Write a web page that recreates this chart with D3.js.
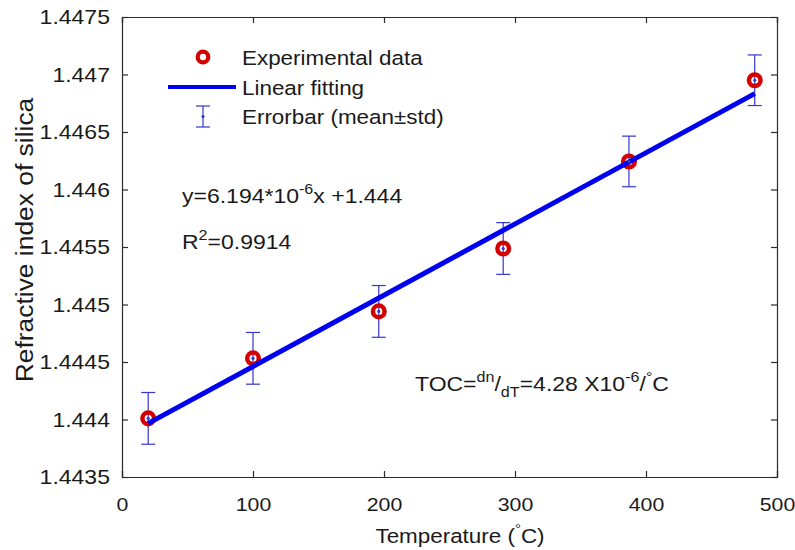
<!DOCTYPE html>
<html><head><meta charset="utf-8">
<script src="https://cdn.jsdelivr.net/npm/d3@7"></script>
<style>
html,body{margin:0;padding:0;background:#fff;}
text{font-family:"Liberation Sans",Arial,sans-serif;}
</style></head>
<body><svg id="chart" width="795" height="550"></svg>
<script>
const temps = [20, 100, 196, 291, 387, 483];
const indexVals = [1.44401, 1.444532, 1.44494, 1.445487, 1.446244, 1.44695];
const stdVals = [0.000225, 0.000225, 0.000225, 0.000225, 0.00022, 0.00022];
const fitX = [20, 483];
const fitY = [1.443966, 1.446834];
const xTicks = [0, 100, 200, 300, 400, 500];
const yTicks = [1.4435, 1.444, 1.4445, 1.445, 1.4455, 1.446, 1.4465, 1.447, 1.4475];
const legendLabels = ["Experimental data", "Linear fitting", "Errorbar (mean±std)"];

const W = 795, H = 550;
const m = {left: 122, right: 18, top: 17, bottom: 73};
const SX = 1.15; // horizontal stretch of the text in the reference
const FS = 20, SUB = 14;
const svg = d3.select("#chart");
const x = d3.scaleLinear().domain([0, 500]).range([m.left, W - m.right]);
const y = d3.scaleLinear().domain([1.4435, 1.4475]).range([H - m.bottom, m.top]);

const axisColor = "#2b2b2b", txtColor = "#1a1a1a";
const fmtY = d => String(+d.toFixed(4));
const gx = svg.append("g").attr("transform", `translate(0,${H - m.bottom})`)
  .call(d3.axisBottom(x).tickValues(xTicks).tickSize(-6).tickPadding(21).tickFormat(d3.format("d")));
const gxt = svg.append("g").attr("transform", `translate(0,${m.top})`)
  .call(d3.axisTop(x).tickValues(xTicks).tickSize(-6).tickFormat(""));
const gy = svg.append("g").attr("transform", `translate(${m.left},0)`)
  .call(d3.axisLeft(y).tickValues(yTicks).tickSize(-6).tickPadding(10.5).tickFormat(fmtY));
const gyr = svg.append("g").attr("transform", `translate(${W - m.right},0)`)
  .call(d3.axisRight(y).tickValues(yTicks).tickSize(-6).tickFormat(""));
[gx, gxt, gy, gyr].forEach(g => {
  g.selectAll("path").attr("stroke", axisColor).attr("stroke-width", 1.2);
  g.selectAll("line").attr("stroke", axisColor).attr("stroke-width", 1.2);
  g.selectAll("text").attr("fill", txtColor).attr("font-size", FS)
    .attr("font-family", "Liberation Sans, Arial, sans-serif").attr("transform", `scale(${SX},1)`);
});
gx.selectAll("text").attr("font-size", 18.5);
gy.selectAll("text").attr("dy", "0.34em");

// helper: stretched text at (tx,ty)
function sText(tx, ty, size, anchor, rot, sx) {
  const g = svg.append("g").attr("transform", `translate(${tx},${ty})` + (rot ? ` rotate(${rot})` : "") + ` scale(${sx || SX},1)`);
  return g.append("text").attr("x", 0).attr("y", 0).attr("font-size", size).attr("fill", txtColor).attr("text-anchor", anchor || "start");
}

// axis titles
const xt = sText(460, 543, 19.5, "middle");
xt.append("tspan").text("Temperature (");
xt.append("tspan").text("°").attr("font-size", 13).attr("dy", -10);
xt.append("tspan").text("C)").attr("dy", 10);
sText(33, (m.top + H - m.bottom) / 2 - 7, 24, "middle", -90, 1.1).text("Refractive index of silica");

const errColor = "#3535d0";
const capW = 7;
const eb = svg.append("g");
temps.forEach((t, i) => {
  const cx = x(t), y1 = y(indexVals[i] + stdVals[i]), y2 = y(indexVals[i] - stdVals[i]);
  eb.append("line").attr("x1", cx).attr("x2", cx).attr("y1", y1).attr("y2", y2).attr("stroke", errColor).attr("stroke-width", 1.2);
  eb.append("line").attr("x1", cx - capW).attr("x2", cx + capW).attr("y1", y1).attr("y2", y1).attr("stroke", errColor).attr("stroke-width", 1.2);
  eb.append("line").attr("x1", cx - capW).attr("x2", cx + capW).attr("y1", y2).attr("y2", y2).attr("stroke", errColor).attr("stroke-width", 1.2);
});

// markers
svg.append("g").selectAll("circle").data(temps).join("circle")
  .attr("cx", d => x(d)).attr("cy", (d, i) => y(indexVals[i])).attr("r", 5.8)
  .attr("fill", "none").attr("stroke", "#d40000").attr("stroke-width", 4.5);

// fit line
svg.append("path").datum(fitX.map((d, i) => [d, fitY[i]]))
  .attr("d", d3.line().x(d => x(d[0])).y(d => y(d[1])))
  .attr("stroke", "#0000f0").attr("stroke-width", 5).attr("fill", "none");

// centre dots
svg.append("g").selectAll("circle").data(temps).join("circle")
  .attr("cx", d => x(d)).attr("cy", (d, i) => y(indexVals[i])).attr("r", 1.6).attr("fill", errColor);

// legend
const lg = svg.append("g");
lg.append("circle").attr("cx", 203).attr("cy", 57).attr("r", 5.3).attr("fill", "none").attr("stroke", "#d40000").attr("stroke-width", 4.2);
lg.append("line").attr("x1", 168).attr("x2", 236).attr("y1", 87).attr("y2", 87).attr("stroke", "#0000f0").attr("stroke-width", 4);
lg.append("line").attr("x1", 203).attr("x2", 203).attr("y1", 106).attr("y2", 127).attr("stroke", errColor).attr("stroke-width", 1.2);
lg.append("line").attr("x1", 196).attr("x2", 210).attr("y1", 106).attr("y2", 106).attr("stroke", errColor).attr("stroke-width", 1.2);
lg.append("line").attr("x1", 196).attr("x2", 210).attr("y1", 127).attr("y2", 127).attr("stroke", errColor).attr("stroke-width", 1.2);
lg.append("circle").attr("cx", 203).attr("cy", 116.5).attr("r", 1.6).attr("fill", errColor);
const legendY = [65, 95, 124];
legendLabels.forEach((s, i) => sText(242, legendY[i], 19.5).text(s));

// annotations
const eq = sText(182, 203, FS);
eq.append("tspan").text("y=6.194*10");
eq.append("tspan").text("-6").attr("font-size", SUB).attr("dy", -9);
eq.append("tspan").text("x +1.444").attr("dy", 9);
const r2 = sText(182, 249, FS);
r2.append("tspan").text("R");
r2.append("tspan").text("2").attr("font-size", SUB).attr("dy", -9);
r2.append("tspan").text("=0.9914").attr("dy", 9);
const toc = sText(415, 391, FS);
toc.append("tspan").text("TOC=");
toc.append("tspan").text("dn").attr("font-size", SUB).attr("dy", -9);
toc.append("tspan").text("/").attr("dy", 9);
toc.append("tspan").text("dT").attr("font-size", SUB).attr("dy", 6);
toc.append("tspan").text("=4.28 X10").attr("dy", -6);
toc.append("tspan").text("-6").attr("font-size", SUB).attr("dy", -9);
toc.append("tspan").text("/").attr("dy", 9);
toc.append("tspan").text("°").attr("font-size", SUB).attr("dy", -9);
toc.append("tspan").text("C").attr("dy", 9);
</script></body></html>
